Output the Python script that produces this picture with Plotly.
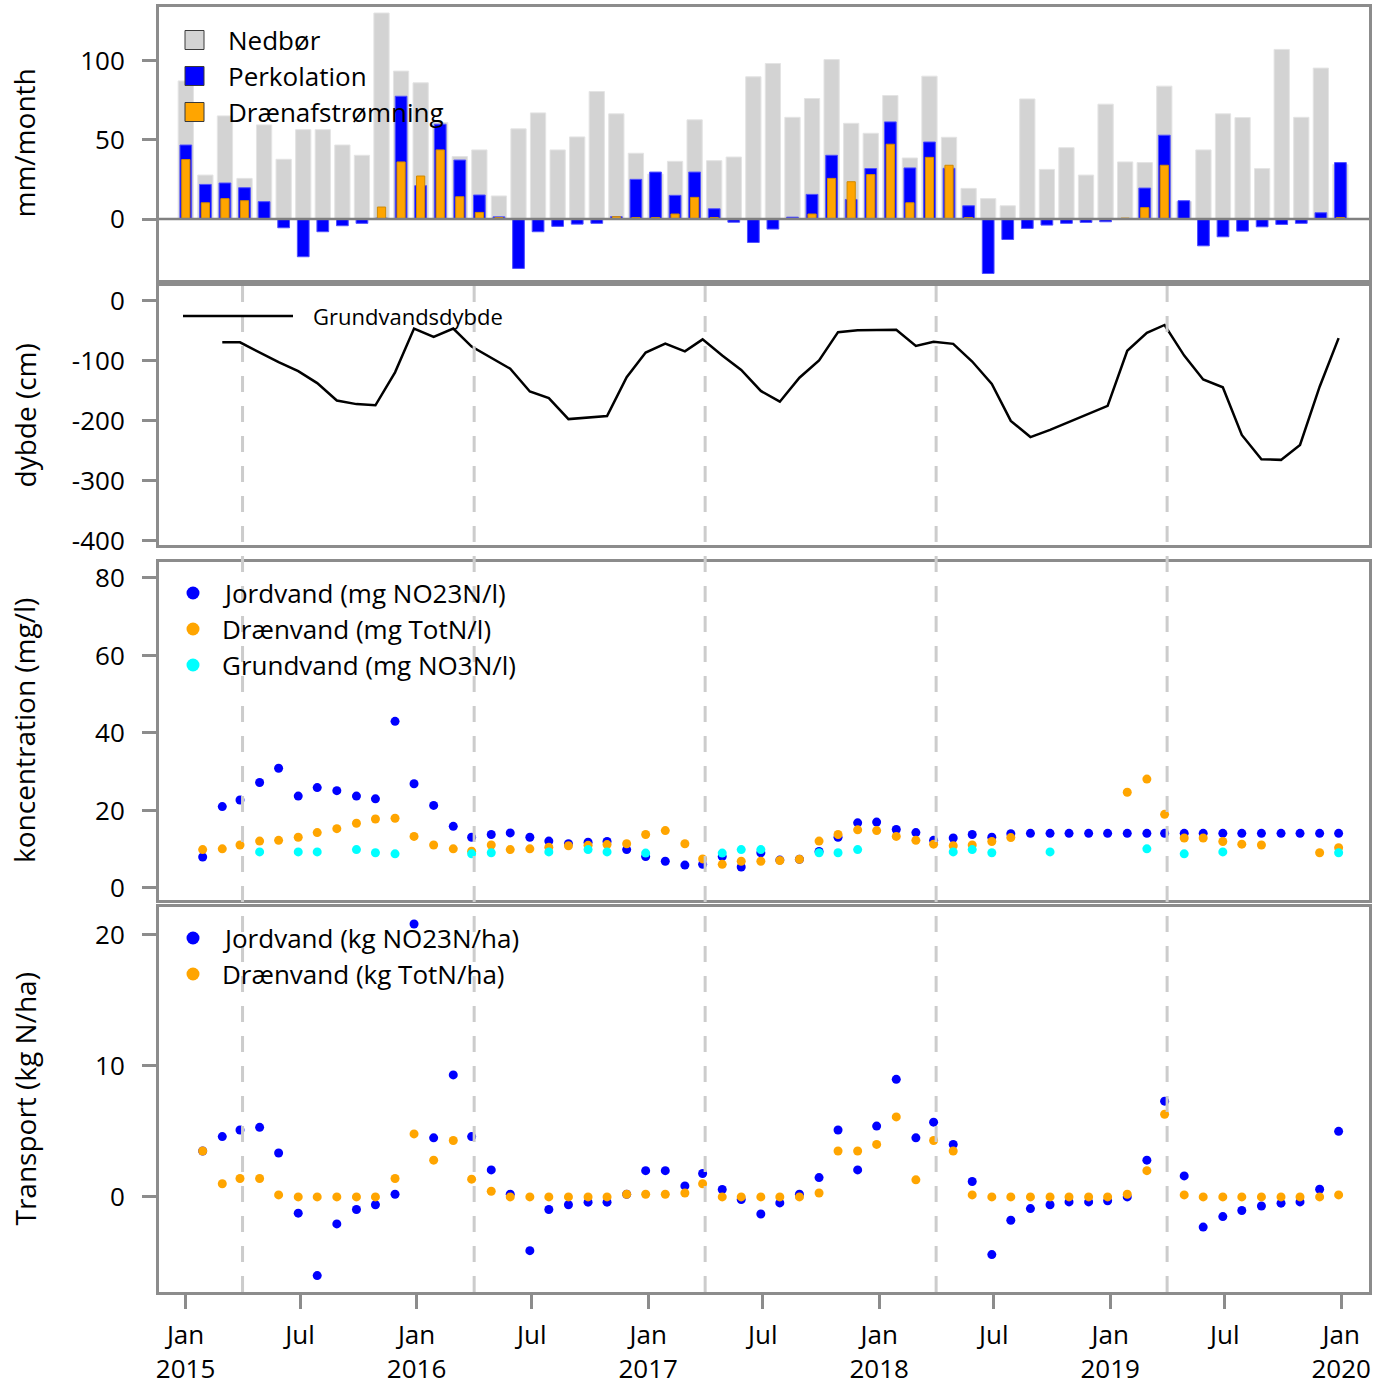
import plotly.graph_objects as go

# ---------------------------------------------------------------- data
years = [2015, 2016, 2017, 2018, 2019]
month_cats = [f"{y}-{m:02d}" for y in years for m in range(1, 13)]
sample_dates = [f"{y}-{m:02d}-28" for y in years for m in range(1, 13)]

# Monthly water balance (mm/month)
nedboer = [87.3, 27.8, 65.2, 25.7, 59.5, 37.8, 56.5, 56.5, 46.8, 40.3, 130.2, 93.5,
           86.1, 61.0, 39.5, 43.7, 14.6, 57.0, 67.1, 43.7, 51.9, 80.6, 66.5, 41.6,
           28.5, 36.5, 62.7, 36.9, 39.2, 89.9, 98.3, 64.3, 76.2, 100.8, 60.5, 54.2,
           78.1, 38.6, 90.3, 51.7, 19.4, 12.9, 8.4, 75.9, 31.4, 45.1, 27.8, 72.6,
           36.1, 35.7, 84.0, 11.0, 43.7, 66.5, 64.1, 31.9, 107.2, 64.3, 95.4, 34.5]
perkolation = [46.8, 21.9, 22.8, 19.8, 11.0, -5.5, -23.8, -8.0, -4.2, -2.7, 0.6, 77.6,
               21.1, 59.9, 37.3, 15.2, 1.4, -31.2, -8.0, -4.6, -3.2, -2.7, 1.5, 25.1,
               29.7, 15.0, 29.7, 6.5, -2.0, -14.8, -6.3, 1.2, 15.6, 40.3, 12.4, 31.9,
               61.4, 32.3, 48.7, 32.1, 8.4, -34.4, -12.9, -5.9, -3.8, -2.7, -2.1, -1.7,
               0.3, 19.6, 53.0, 11.6, -16.9, -11.2, -7.6, -4.9, -3.4, -2.7, 4.0, 35.7]
draenafstroemning = [37.6, 10.3, 12.9, 11.6, 0, 0, 0, 0, 0, 0, 7.6, 36.1,
                     27.2, 43.7, 14.1, 4.2, 1.0, 0, 0, 0, 0, 0, 1.5, 1.0,
                     1.0, 3.2, 13.7, 1.0, 0, 0, 0, 0, 3.2, 25.7, 23.6, 28.1,
                     47.3, 10.3, 39.0, 34.0, 1.0, 0, 0, 0, 0, 0, 0, 0,
                     0.6, 7.2, 34.0, 0, 0, 0, 0, 0, 0, 0, 0, 1.0]

# Groundwater depth (cm)
gw_dates = ["2015-02-28", "2015-03-28", "2015-05-28", "2015-06-28", "2015-07-28", "2015-08-28",
            "2015-09-28", "2015-10-28", "2015-11-28", "2015-12-28", "2016-01-28", "2016-02-28",
            "2016-03-28", "2016-04-28", "2016-05-28", "2016-06-28", "2016-07-28", "2016-08-28",
            "2016-10-28", "2016-11-28", "2016-12-28", "2017-01-28", "2017-02-28", "2017-03-28",
            "2017-04-28", "2017-05-28", "2017-06-28", "2017-07-28", "2017-08-28", "2017-09-28",
            "2017-10-28", "2017-11-28", "2018-01-28", "2018-02-28", "2018-03-28", "2018-04-28",
            "2018-05-28", "2018-06-28", "2018-07-28", "2018-08-28", "2018-09-28", "2018-12-28",
            "2019-01-28", "2019-02-28", "2019-03-28", "2019-04-28", "2019-05-28", "2019-06-28",
            "2019-07-28", "2019-08-28", "2019-09-28", "2019-10-28", "2019-11-28", "2019-12-28"]
gw_depth = [-69, -69, -102, -117, -137, -166, -172, -174, -119, -46, -60, -46,
            -76, -95, -113, -151, -162, -197, -192, -127, -86, -71, -84, -64,
            -91, -115, -150, -168, -128, -99, -52, -49, -48, -75, -68, -71.5,
            -101, -138.5, -200, -227, -215, -175, -83, -53, -40, -91, -131, -144,
            -223.5, -264, -265, -240, -143, -62]

# Concentrations (mg/l)
conc_jordvand = [8.0, 21.0, 22.7, 27.2, 30.9, 23.7, 25.9, 25.1, 23.7, 23.0, 43.0, 26.9,
                 21.3, 15.9, 13.1, 13.8, 14.2, 13.1, 12.1, 11.4, 11.8, 12.0, 9.9, 8.1,
                 6.9, 5.9, 6.1, 8.1, 5.4, 9.1, 7.2, 7.4, 9.4, 13.1, 16.8, 17.0,
                 15.1, 14.3, 12.3, 12.9, 13.8, 13.1, 14.0, 14.1, 14.1, 14.1, 14.1, 14.1,
                 14.1, 14.1, 14.1, 14.1, 14.1, 14.1, 14.1, 14.1, 14.1, 14.1, 14.1, 14.1]
conc_draenvand = [9.9, 10.1, 11.1, 12.1, 12.3, 13.1, 14.3, 15.3, 16.7, 17.8, 18.0, 13.3,
                  11.1, 10.1, 9.5, 11.1, 9.9, 10.1, 10.5, 10.9, 11.0, 11.2, 11.4, 13.8,
                  14.8, 11.4, 7.5, 6.1, 6.9, 6.9, 7.1, 7.4, 12.1, 13.8, 15.0, 14.8,
                  13.3, 12.3, 11.3, 10.9, 11.1, 12.0, 13.0, None, None, None, None, None,
                  24.7, 28.1, 19.0, 12.9, 12.9, 12.0, 11.3, 11.1, None, None, 9.1, 10.4]
grundvand_dates = ["2015-04-28", "2015-06-28", "2015-07-28", "2015-09-28", "2015-10-28", "2015-11-28",
                   "2016-03-28", "2016-04-28", "2016-07-28", "2016-09-28", "2016-10-28", "2016-12-28",
                   "2017-04-28", "2017-05-28", "2017-06-28", "2017-09-28", "2017-10-28", "2017-11-28",
                   "2018-04-28", "2018-05-28", "2018-06-28", "2018-09-28",
                   "2019-02-28", "2019-04-28", "2019-06-28", "2019-12-28"]
conc_grundvand = [9.3, 9.3, 9.3, 9.9, 9.1, 8.8,
                  8.8, 9.1, 9.3, 9.9, 9.3, 9.0,
                  9.0, 9.9, 9.9, 9.1, 9.1, 9.9,
                  9.3, 9.9, 9.1, 9.3,
                  10.1, 8.8, 9.3, 9.1]

# Nitrogen transport (kg N/ha)
transp_jordvand = [3.5, 4.6, 5.1, 5.3, 3.35, -1.24, -6.0, -2.06, -0.96, -0.6, 0.2, 20.8,
                   4.5, 9.3, 4.6, 2.06, 0.2, -4.1, -0.96, -0.6, -0.4, -0.4, 0.2, 2.0,
                   2.0, 0.84, 1.78, 0.56, -0.2, -1.3, -0.46, 0.2, 1.47, 5.1, 2.06, 5.4,
                   8.96, 4.5, 5.7, 4.0, 1.17, -4.4, -1.78, -0.89, -0.6, -0.38, -0.38, -0.3,
                   0.0, 2.8, 7.3, 1.6, -2.3, -1.5, -1.04, -0.69, -0.48, -0.38, 0.58, 5.0]
transp_draenvand = [3.5, 1.0, 1.4, 1.4, 0.15, 0, 0, 0, 0, 0, 1.4, 4.8,
                    2.8, 4.3, 1.35, 0.43, 0, 0, 0, 0, 0, 0, 0.2, 0.2,
                    0.2, 0.3, 1.0, 0, 0, 0, 0, 0, 0.3, 3.5, 3.5, 4.0,
                    6.1, 1.3, 4.3, 3.5, 0.15, 0, 0, 0, 0, 0, 0, 0,
                    0.2, 2.0, 6.3, 0.15, 0, 0, 0, 0, 0, 0, 0, 0.15]

season_marks = ["2015-04-01", "2016-04-01", "2017-04-01", "2018-04-01", "2019-04-01"]
xtick_vals = ["2015-01-01", "2015-07-01", "2016-01-01", "2016-07-01", "2017-01-01", "2017-07-01",
              "2018-01-01", "2018-07-01", "2019-01-01", "2019-07-01", "2020-01-01"]
xtick_text = ["Jan<br>2015", "Jul", "Jan<br>2016", "Jul", "Jan<br>2017", "Jul",
              "Jan<br>2018", "Jul", "Jan<br>2019", "Jul", "Jan<br>2020"]

# ---------------------------------------------------------------- style
FONT = "Open Sans"
BLUE, ORANGE, CYAN, GREY = "#0000ff", "#ffa500", "#00ffff", "#d3d3d3"
FRAME = "#8c8c8c"
W, H = 1388, 1387
ML, MR, MT, MB = 159, 19, 7, 95
PW, PH = W - ML - MR, H - MT - MB


def fx(px):
    return (px - ML) / PW


def fy(py):
    return (H - MB - py) / PH


# panel extents in page pixels (top, bottom)
panels = [(7, 280), (286, 545), (562, 900), (907, 1292)]
domains = [[fy(b), fy(t)] for t, b in panels]
date_range = ["2014-11-20", "2020-02-14"]

fig = go.Figure()

# ---- panel 1: bars
fig.add_trace(go.Bar(x=month_cats, y=nedboer, width=0.78, marker=dict(color=GREY, line=dict(color="#e4e4e4", width=1)),
                     xaxis="x", yaxis="y", showlegend=False, name="Nedbør"))
fig.add_trace(go.Bar(x=month_cats, y=perkolation, width=0.6, marker=dict(color=BLUE, line=dict(color="#5050ff", width=1)),
                     xaxis="x", yaxis="y", showlegend=False, name="Perkolation"))
fig.add_trace(go.Bar(x=month_cats, y=draenafstroemning, width=0.42, marker=dict(color=ORANGE, line=dict(color="#d08a00", width=1)),
                     xaxis="x", yaxis="y", showlegend=False, name="Drænafstrømning"))

# ---- panel 2: groundwater depth
fig.add_trace(go.Scatter(x=gw_dates, y=gw_depth, mode="lines", line=dict(color="black", width=2.5),
                         xaxis="x2", yaxis="y2", showlegend=False, name="Grundvandsdybde"))

# ---- panel 3: concentrations
fig.add_trace(go.Scatter(x=sample_dates, y=conc_jordvand, mode="markers", marker=dict(color=BLUE, size=9),
                         xaxis="x3", yaxis="y3", showlegend=False, name="Jordvand (mg NO23N/l)"))
fig.add_trace(go.Scatter(x=sample_dates, y=conc_draenvand, mode="markers", marker=dict(color=ORANGE, size=9),
                         xaxis="x3", yaxis="y3", showlegend=False, name="Drænvand (mg TotN/l)"))
fig.add_trace(go.Scatter(x=grundvand_dates, y=conc_grundvand, mode="markers", marker=dict(color=CYAN, size=9),
                         xaxis="x3", yaxis="y3", showlegend=False, name="Grundvand (mg NO3N/l)"))

# ---- panel 4: transport
fig.add_trace(go.Scatter(x=sample_dates, y=transp_jordvand, mode="markers", marker=dict(color=BLUE, size=9),
                         xaxis="x4", yaxis="y4", showlegend=False, name="Jordvand (kg NO23N/ha)"))
fig.add_trace(go.Scatter(x=sample_dates, y=transp_draenvand, mode="markers", marker=dict(color=ORANGE, size=9),
                         xaxis="x4", yaxis="y4", showlegend=False, name="Drænvand (kg TotN/ha)"))

frame = dict(showline=True, mirror=True, linecolor=FRAME, linewidth=3, showgrid=False, zeroline=False,
             automargin=False)
tickfont = dict(family=FONT, size=26, color="black")
yax = dict(frame, ticks="outside", ticklen=14, tickwidth=2.5, tickcolor=FRAME, tickfont=tickfont,
           ticklabelstandoff=12)
xdate = dict(frame, type="date", range=date_range, showticklabels=False, ticks="")

fig.update_layout(
    width=W, height=H, autosize=False,
    margin=dict(l=ML, r=MR, t=MT, b=MB, pad=0, autoexpand=False),
    paper_bgcolor="white", plot_bgcolor="white",
    barmode="overlay", showlegend=False,
    font=dict(family=FONT, size=26, color="black"),
    xaxis=dict(frame, type="category", range=[-1.37, 60.46], showticklabels=False, ticks="", anchor="y"),
    yaxis=dict(yax, domain=domains[0], range=[-38.5, 134], tickvals=[0, 50, 100], anchor="x"),
    xaxis2=dict(xdate, anchor="y2", matches="x4"),
    yaxis2=dict(yax, domain=domains[1], range=[-407, 25], tickvals=[0, -100, -200, -300, -400],
                ticktext=["0", "-100", "-200", "-300", "-400"], anchor="x2"),
    xaxis3=dict(xdate, anchor="y3", matches="x4"),
    yaxis3=dict(yax, domain=domains[2], range=[-3.1, 84.1], tickvals=[0, 20, 40, 60, 80], anchor="x3"),
    xaxis4=dict(frame, type="date", range=date_range, anchor="y4", ticks="outside", ticklen=14,
                tickwidth=2.5, tickcolor=FRAME, tickfont=tickfont, tickvals=xtick_vals,
                ticktext=xtick_text, ticklabelstandoff=4),
    yaxis4=dict(yax, domain=domains[3], range=[-7.25, 22.1], tickvals=[0, 10, 20], anchor="x4"),
)

shapes = []
# zero line of the water-balance panel
shapes.append(dict(type="line", xref="x domain", yref="y", x0=0, x1=1, y0=0, y1=0,
                   line=dict(color="#808080", width=2.5), layer="above"))
# dashed yearly markers (1 April) through the lower three panels
for d in season_marks:
    shapes.append(dict(type="line", xref="x4", yref="paper", x0=d, x1=d, y0=0, y1=domains[1][1],
                       line=dict(color="#cccccc", width=3, dash="16px,14px"), layer="above"))

annotations = []


def legend_text(px, py, text, size=26):
    annotations.append(dict(x=fx(px), y=fy(py), xref="paper", yref="paper", text=text, showarrow=False,
                            xanchor="left", yanchor="middle", font=dict(family=FONT, size=size, color="black")))


# legend, panel 1
for py, col, txt in [(40, GREY, "Nedbør"), (76, BLUE, "Perkolation"), (112, ORANGE, "Drænafstrømning")]:
    shapes.append(dict(type="rect", xref="paper", yref="paper", x0=fx(185), x1=fx(204), y0=fy(py + 9.5),
                       y1=fy(py - 9.5), fillcolor=col, line=dict(color="#3a3a3a", width=1), layer="above"))
    legend_text(226, py, txt)

# legend, panel 2
shapes.append(dict(type="line", xref="paper", yref="paper", x0=fx(183), x1=fx(293), y0=fy(316), y1=fy(316),
                   line=dict(color="black", width=2.5)))
legend_text(311, 316, "Grundvandsdybde", size=22)

# legends, panels 3 and 4
for py, col, txt in [(593, BLUE, "Jordvand (mg NO23N/l)"), (629, ORANGE, "Drænvand (mg TotN/l)"),
                     (665, CYAN, "Grundvand (mg NO3N/l)"),
                     (938, BLUE, "Jordvand (kg NO23N/ha)"), (974, ORANGE, "Drænvand (kg TotN/ha)")]:
    shapes.append(dict(type="circle", xref="paper", yref="paper", x0=fx(186.5), x1=fx(199.5), y0=fy(py + 6.5),
                       y1=fy(py - 6.5), fillcolor=col, line=dict(color=col, width=0)))
    legend_text(220, py, txt)

# y-axis titles
for (t, b), title in zip(panels, ["mm/month", "dybde (cm)", "koncentration (mg/l)", "Transport (kg N/ha)"]):
    annotations.append(dict(x=fx(24), y=fy((t + b) / 2), xref="paper", yref="paper", text=title, showarrow=False,
                            textangle=-90, xanchor="center", yanchor="middle",
                            font=dict(family=FONT, size=28, color="black")))

fig.update_layout(shapes=shapes, annotations=annotations)
fig.write_html("out.html")
